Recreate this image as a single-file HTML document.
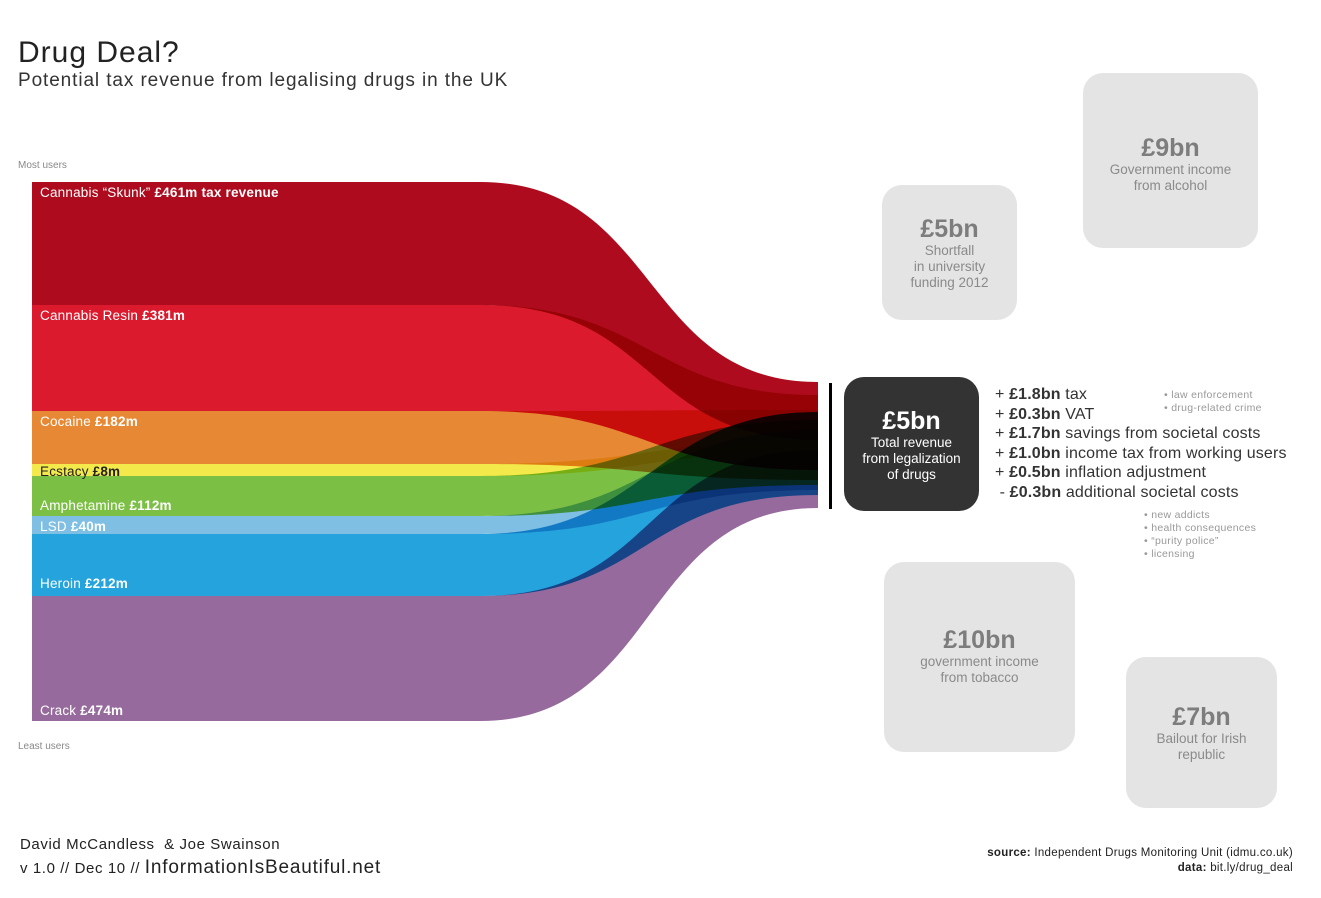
<!DOCTYPE html>
<html><head><meta charset="utf-8"><style>
body{margin:0;width:1321px;height:898px;background:#fff;font-family:"Liberation Sans",sans-serif;position:relative;overflow:hidden}
.a{position:absolute;white-space:nowrap}
.box{position:absolute;background:#e4e4e4;border-radius:20px;text-align:center;color:#8a8a8a;font-size:13.5px;line-height:16px}
.box b{display:block;font-size:25px;line-height:28px;color:#7d7d7d}
.lbl{position:absolute;left:40px;color:#fff;font-size:13.5px;letter-spacing:0.2px}
.g{color:#999;font-size:10.5px;line-height:13px;letter-spacing:0.3px}
</style></head><body>
<div class="a" style="left:18px;top:36px;font-size:30px;color:#222;letter-spacing:1px">Drug Deal?</div>
<div class="a" style="left:18px;top:70px;font-size:19px;color:#333;letter-spacing:0.9px">Potential tax revenue from legalising drugs in the UK</div>
<div class="a" style="left:18px;top:160px;font-size:10px;color:#888">Most users</div>
<div class="a" style="left:18px;top:741px;font-size:10px;color:#888">Least users</div>
<svg style="position:absolute;left:0;top:0" width="1321" height="898">
<g style="isolation:isolate">
<path style="mix-blend-mode:multiply" fill="#ae0c1e" d="M32,182L480,182C660,182 640,382 818,382L818,440C640,440 660,305 480,305L32,305Z"/>
<path style="mix-blend-mode:multiply" fill="#dc1a2e" d="M32,305L480,305C650,305 650,395 818,395L818,470C640,470 650,411 480,411L32,411Z"/>
<path style="mix-blend-mode:multiply" fill="#e78834" d="M32,411L480,411C650,411 650,410 818,410L818,480C640,480 650,464 480,464L32,464Z"/>
<path style="mix-blend-mode:multiply" fill="#f4e94a" d="M32,464L480,464C650,464 650,440 818,440L818,452C640,452 650,476 480,476L32,476Z"/>
<path style="mix-blend-mode:multiply" fill="#7cbf45" d="M32,476L480,476C650,476 650,420 818,420L818,485C640,485 650,516 480,516L32,516Z"/>
<path style="mix-blend-mode:multiply" fill="#7fbfe3" d="M32,516L480,516C650,516 650,430 818,430L818,490C640,490 650,534 480,534L32,534Z"/>
<path style="mix-blend-mode:multiply" fill="#24a3dd" d="M32,534L480,534C650,534 650,412 818,412L818,495C640,495 650,596 480,596L32,596Z"/>
<path style="mix-blend-mode:multiply" fill="#966a9c" d="M32,596L480,596C660,596 640,450 818,450L818,508C640,508 660,721 480,721L32,721Z"/>
</g>
<rect x="829" y="383" width="3" height="126" fill="#000"/>
</svg>
<div class="lbl" style="top:185px">Cannabis “Skunk” <b>£461m tax revenue</b></div>
<div class="lbl" style="top:308px">Cannabis Resin <b>£381m</b></div>
<div class="lbl" style="top:414px">Cocaine <b>£182m</b></div>
<div class="lbl" style="top:464px;color:#222">Ecstacy <b>£8m</b></div>
<div class="lbl" style="top:498px">Amphetamine <b>£112m</b></div>
<div class="lbl" style="top:519px">LSD <b>£40m</b></div>
<div class="lbl" style="top:576px">Heroin <b>£212m</b></div>
<div class="lbl" style="top:703px">Crack <b>£474m</b></div>
<div class="box" style="left:1083px;top:73px;width:175px;height:175px"><div style="padding-top:61px"><b>£9bn</b>Government income<br>from alcohol</div></div>
<div class="box" style="left:882px;top:185px;width:135px;height:135px"><div style="padding-top:30px"><b>£5bn</b>Shortfall<br>in university<br>funding 2012</div></div>
<div class="box" style="left:884px;top:562px;width:191px;height:190px"><div style="padding-top:64px"><b>£10bn</b>government income<br>from tobacco</div></div>
<div class="box" style="left:1126px;top:657px;width:151px;height:151px"><div style="padding-top:46px"><b>£7bn</b>Bailout for Irish<br>republic</div></div>
<div class="box" style="left:844px;top:377px;width:135px;height:134px;background:#333;color:#fff"><div style="padding-top:30px"><b style="color:#fff">£5bn</b>Total revenue<br>from legalization<br>of drugs</div></div>
<div class="a" style="left:995px;top:385px;font-size:16px;line-height:19.5px;color:#333;letter-spacing:0.15px">
+ <b>£1.8bn</b> tax<br>+ <b>£0.3bn</b> VAT<br>+ <b>£1.7bn</b> savings from societal costs<br>+ <b>£1.0bn</b> income tax from working users<br>+ <b>£0.5bn</b> inflation adjustment<br>&nbsp;- <b>£0.3bn</b> additional societal costs</div>
<div class="a g" style="left:1164px;top:389px">• law enforcement<br>• drug-related crime</div>
<div class="a g" style="left:1144px;top:509px">• new addicts<br>• health consequences<br>• “purity police”<br>• licensing</div>
<div class="a" style="left:20px;top:836px;font-size:15px;color:#222;letter-spacing:0.6px">David McCandless &nbsp;&amp; Joe Swainson</div>
<div class="a" style="left:20px;top:857px;font-size:15px;color:#222;letter-spacing:0.6px">v 1.0 // Dec 10 // <span style="font-size:19px;letter-spacing:0.8px">InformationIsBeautiful.net</span></div>
<div class="a" style="right:28px;top:846px;font-size:11.5px;color:#222;text-align:right;line-height:15px;letter-spacing:0.3px"><b>source:</b> Independent Drugs Monitoring Unit (idmu.co.uk)<br><b>data:</b> bit.ly/drug_deal</div>
</body></html>
